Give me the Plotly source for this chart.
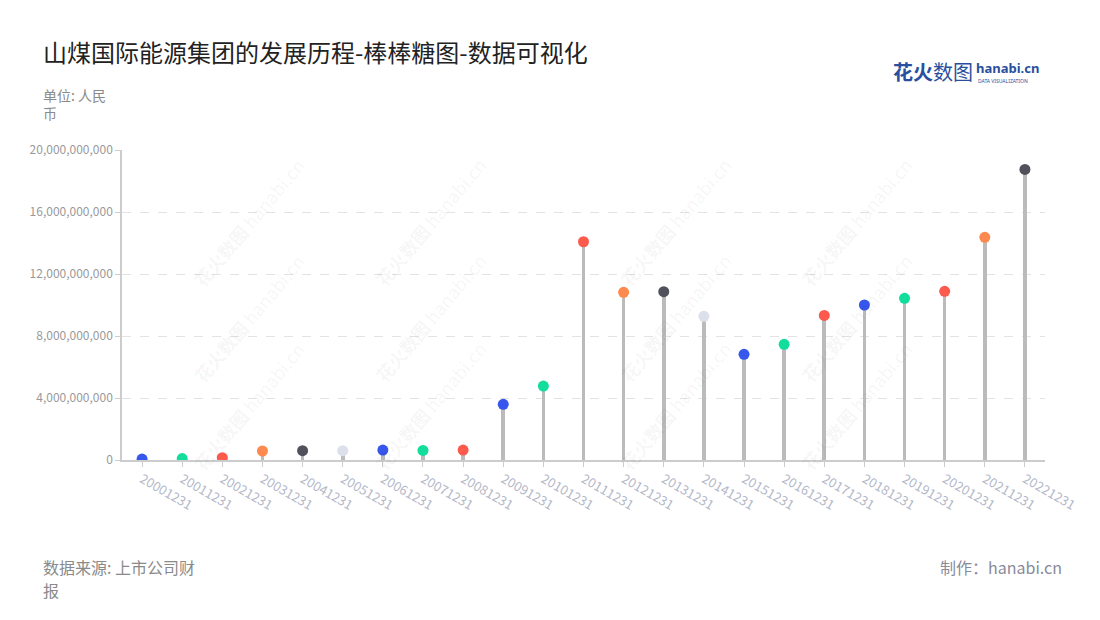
import plotly.graph_objects as go

categories = ["20001231", "20011231", "20021231", "20031231", "20041231", "20051231",
              "20061231", "20071231", "20081231", "20091231", "20101231", "20111231",
              "20121231", "20131231", "20141231", "20151231", "20161231", "20171231",
              "20181231", "20191231", "20201231", "20211231", "20221231"]
values = [0.06e9, 0.09e9, 0.15e9, 0.58e9, 0.60e9, 0.60e9, 0.64e9, 0.62e9, 0.64e9,
          3.59e9, 4.77e9, 14.08e9, 10.82e9, 10.86e9, 9.27e9, 6.82e9, 7.46e9,
          9.33e9, 10.0e9, 10.43e9, 10.88e9, 14.37e9, 18.75e9]
BLUE, GREEN, RED, ORANGE, DARK, LIGHT = "#3656ec", "#12dd9c", "#fb5a4c", "#fc8a4e", "#51515b", "#dce0ea"
point_colors = [BLUE, GREEN, RED, ORANGE, DARK, LIGHT, BLUE, GREEN, RED,
                BLUE, GREEN, RED, ORANGE, DARK, LIGHT, BLUE, GREEN, RED,
                BLUE, GREEN, RED, ORANGE, DARK]
y_ticks = [0, 4e9, 8e9, 12e9, 16e9, 20e9]

fig = go.Figure()
fig.add_trace(go.Bar(x=categories, y=values, width=0.09, marker=dict(color="#bbbbbb", line=dict(width=0)),
                     hoverinfo="skip"))
fig.add_trace(go.Scatter(x=categories, y=values, mode="markers",
                         marker=dict(size=11, color=point_colors, line=dict(width=0))))

# screen-pixel plot area (page body has an 8px margin)
OFF = 8
W, H = 1100 - 2 * OFF, 620 - 2 * OFF
L, R, T, B = 122, 1045, 150, 460


def px(x):
    return (x - L) / (R - L)


def py(y):
    return (B - y) / (B - T)


annotations = []
for j, cy in enumerate([150, 318, 478]):
    for i in range(4):
        cx = 185 + 245 * i
        annotations.append(dict(x=px(cx), y=py(cy), text="<b>花火数图</b> hanabi.cn", textangle=-50,
                                font=dict(size=18, color="rgba(0,0,0,0.055)", family="Noto Sans CJK SC")))

annotations += [
    dict(x=px(41), y=py(51), text="山煤国际能源集团的发展历程-棒棒糖图-数据可视化",
         xanchor="left", yanchor="middle",
         font=dict(size=24, color="#222222", family="Noto Sans CJK SC")),
    dict(x=px(41), y=py(104), text="单位: 人民<br>币", xanchor="left", yanchor="middle", align="left",
         font=dict(size=14, color="#8a8a8a", family="Noto Sans CJK SC")),
    dict(x=px(41), y=py(567), text="数据来源: 上市公司财", xanchor="left", yanchor="middle",
         font=dict(size=16, color="#8a8a8a", family="Noto Sans CJK SC")),
    dict(x=px(41), y=py(590), text="报", xanchor="left", yanchor="middle",
         font=dict(size=16, color="#8a8a8a", family="Noto Sans CJK SC")),
    dict(x=px(1064), y=py(567), text="制作：hanabi.cn", xanchor="right", yanchor="middle",
         font=dict(size=16, color="#8a8a99", family="Noto Sans CJK SC")),
    dict(x=px(891), y=py(72), text="<b>花火</b>数图", xanchor="left", yanchor="middle",
         font=dict(size=20, color="#2a4f9e", family="Noto Sans CJK SC")),
    dict(x=px(974), y=py(68), text="<b>hanabi.cn</b>", xanchor="left", yanchor="middle",
         font=dict(size=13, color="#2a4f9e", family="Noto Sans")),
    dict(x=px(976), y=py(81), text="DATA VISUALIZATION", xanchor="left", yanchor="middle",
         font=dict(size=5, color="#2a4f9e", family="Noto Sans")),
]
for a in annotations:
    a.update(xref="paper", yref="paper", showarrow=False)

fig.update_layout(
    width=W, height=H,
    margin=dict(l=L - OFF, r=W - (R - OFF), t=T - OFF, b=H - (B - OFF)),
    paper_bgcolor="white", plot_bgcolor="white",
    showlegend=False, bargap=0,
    font=dict(family="Noto Sans CJK SC"),
    annotations=annotations,
    xaxis=dict(type="category", range=[-0.5, 22.5], tickangle=30,
               tickfont=dict(size=13, color="#b4b8c8"),
               showline=True, linecolor="#cccccc", linewidth=1.5,
               ticks="outside", ticklen=5, tickcolor="#cccccc", showgrid=False, zeroline=False),
    yaxis=dict(range=[0, 20e9], tickvals=y_ticks, tickformat=",d",
               tickfont=dict(size=12, color="#999999"),
               showline=True, linecolor="#cccccc", linewidth=1.5,
               ticks="outside", ticklen=5, tickcolor="#cccccc",
               showgrid=True, gridcolor="#e3e3e3", griddash="dash", gridwidth=1, zeroline=False),
)
fig.write_html("out.html")
